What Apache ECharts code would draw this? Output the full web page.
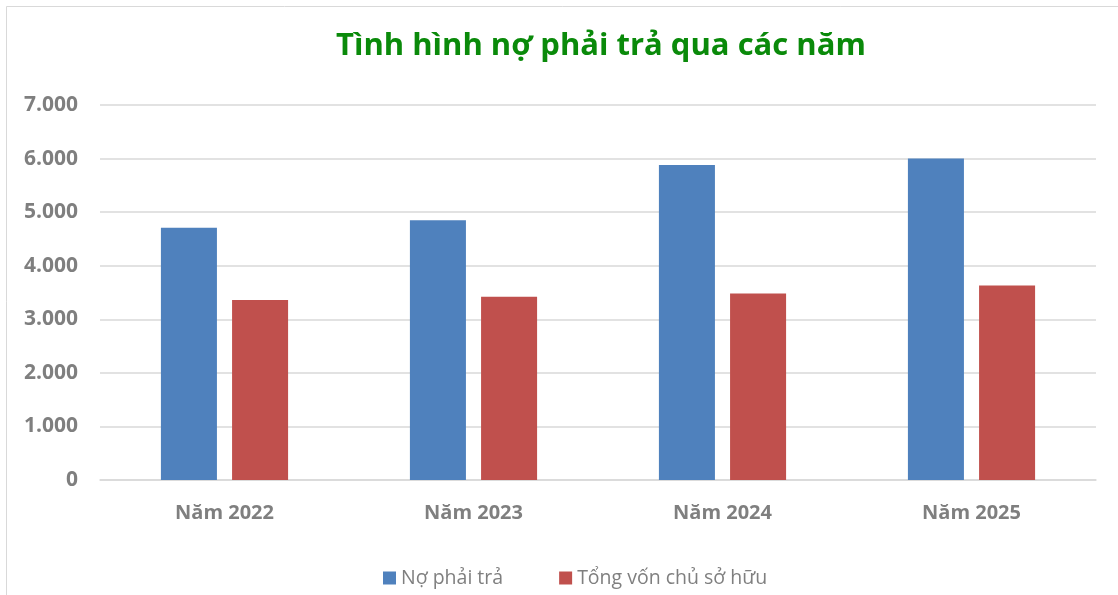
<!DOCTYPE html>
<html>
<head>
<meta charset="utf-8">
<script src="https://cdn.jsdelivr.net/npm/echarts@6/dist/echarts.min.js"></script>
<style>html,body{margin:0;padding:0;background:#fff}#c{width:1118px;height:595px}</style>
</head>
<body>
<div id="c"></div>
<script>
const titleText = 'Tình hình nợ phải trả qua các năm';
const categories = ['Năm 2022', 'Năm 2023', 'Năm 2024', 'Năm 2025'];
const seriesNames = ['Nợ phải trả', 'Tổng vốn chủ sở hữu'];
const noPhaiTra = [4710, 4850, 5880, 6000];
const tongVon = [3360, 3422, 3483, 3632];
const yTicks = [0, 1000, 2000, 3000, 4000, 5000, 6000, 7000];

const font = '"Open Sans", "DejaVu Sans", sans-serif';
const chart = echarts.init(document.getElementById('c'));
chart.setOption({
  backgroundColor: '#fff',
  animation: false,
  graphic: [{
    type: 'rect', shape: { x: 6.5, y: 6.5, width: 1130, height: 600 },
    style: { fill: 'none', stroke: '#d9d9d9', lineWidth: 1 }, silent: true
  }],
  title: {
    text: titleText, left: 331, top: 26,
    textStyle: { color: '#0a8a0a', fontSize: 31, fontWeight: 'bold', fontFamily: font }
  },
  legend: {
    data: seriesNames, bottom: 2, left: 378, itemWidth: 13, itemHeight: 13, itemGap: 56,
    icon: 'rect',
    textStyle: { color: '#7f7f7f', fontSize: 19.5, fontFamily: font }
  },
  grid: { left: 100, right: 22, top: 105, bottom: 115 },
  xAxis: {
    type: 'category', data: categories,
    axisLine: { lineStyle: { color: '#d9d9d9', width: 1.5 } },
    axisTick: { show: false },
    axisLabel: { color: '#7f7f7f', fontSize: 20, fontWeight: 'bold', margin: 23, fontFamily: font }
  },
  yAxis: {
    type: 'value', min: yTicks[0], max: yTicks[yTicks.length - 1], interval: 1000,
    axisLine: { show: false }, axisTick: { show: false },
    splitLine: { lineStyle: { color: '#d9d9d9', width: 1.5 } },
    axisLabel: {
      color: '#7f7f7f', fontSize: 21, fontWeight: 'bold', margin: 22, fontFamily: font,
      formatter: v => v === 0 ? '0' : v.toLocaleString('de-DE')
    }
  },
  series: [
    { name: seriesNames[0], type: 'bar', data: noPhaiTra, barWidth: '22.5%', barGap: '27%',
      itemStyle: { color: '#4f81bd' } },
    { name: seriesNames[1], type: 'bar', data: tongVon, barWidth: '22.5%',
      itemStyle: { color: '#c0504d' } }
  ]
});
</script>
</body>
</html>
